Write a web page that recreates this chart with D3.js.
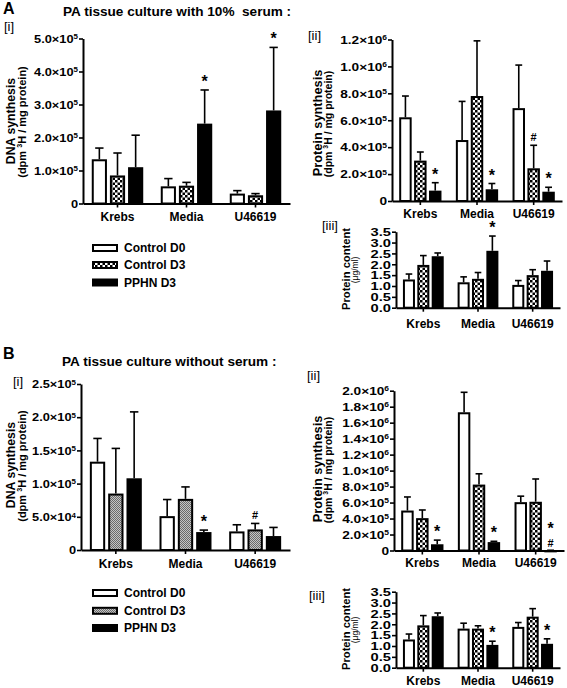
<!DOCTYPE html>
<html><head><meta charset="utf-8">
<script src="https://cdn.jsdelivr.net/npm/d3@7"></script>
<style>
body{margin:0;background:#fff}
svg{display:block}
text{font-family:"Liberation Sans",Arial,sans-serif;font-weight:bold;fill:#000}
</style>
</head><body>
<svg id="c" width="567" height="688"></svg>
<script>
// ---------- DATA ----------
const categories = ["Krebs", "Media", "U46619"];
const seriesNames = ["Control D0", "Control D3", "PPHN D3"];

// A: PA tissue culture with 10% serum
// [series][category]: mean and mean+SEM (top of error bar)
const aDnaMean = [[1.34e5, 0.52e5, 0.30e5], [0.85e5, 0.54e5, 0.25e5], [1.10e5, 2.42e5, 2.82e5]];
const aDnaTop  = [[1.68e5, 0.755e5, 0.39e5], [1.53e5, 0.64e5, 0.30e5], [2.07e5, 3.44e5, 4.73e5]];
const aDnaMarks = [["", "", ""], ["", "", ""], ["", "*", "*"]];
const aDnaTicks = [0, 1e5, 2e5, 3e5, 4e5, 5e5];

const aProtSynMean = [[6.22e5, 4.53e5, 6.9e5], [3.0e5, 7.8e5, 2.43e5], [0.77e5, 0.87e5, 0.69e5]];
const aProtSynTop  = [[7.8e5, 7.4e5, 10.1e5], [3.64e5, 11.9e5, 4.14e5], [1.36e5, 1.3e5, 1.02e5]];
const aProtSynMarks = [["", "", ""], ["", "", "#"], ["*", "*", "*"]];
const aProtSynTicks = [0, 2e5, 4e5, 6e5, 8e5, 1.0e6, 1.2e6];

const aProtContMean = [[1.30, 1.17, 1.05], [1.97, 1.33, 1.50], [2.37, 2.62, 1.70]];
const aProtContTop  = [[1.55, 1.42, 1.25], [2.40, 1.62, 1.75], [2.52, 3.30, 2.15]];
const aProtContMarks = [["", "", ""], ["", "", ""], ["", "*", ""]];
const protContTicks = [0, 0.5, 1.0, 1.5, 2.0, 2.5, 3.0, 3.5];

// B: PA tissue culture without serum
const bDnaMean = [[1.33e5, 0.51e5, 0.28e5], [0.85e5, 0.77e5, 0.31e5], [1.08e5, 0.27e5, 0.21e5]];
const bDnaTop  = [[1.68e5, 0.76e5, 0.38e5], [1.53e5, 0.95e5, 0.40e5], [2.08e5, 0.30e5, 0.34e5]];
const bDnaMarks = [["", "", ""], ["", "", "#"], ["", "*", ""]];
const bDnaTicks = [0, 5e4, 1.0e5, 1.5e5, 2.0e5, 2.5e5];

const bProtSynMean = [[5.0e5, 17.3e5, 6.05e5], [4.05e5, 8.25e5, 6.1e5], [0.78e5, 1.05e5, 0.02e5]];
const bProtSynTop  = [[6.7e5, 19.8e5, 6.8e5], [5.07e5, 9.6e5, 8.95e5], [1.3e5, 1.15e5, 0.03e5]];
const bProtSynMarks = [["", "", ""], ["", "", ""], ["*", "*", "*#"]];
const bProtSynTicks = [0, 2e5, 4e5, 6e5, 8e5, 1.0e6, 1.2e6, 1.4e6, 1.6e6, 1.8e6, 2.0e6];

const bProtContMean = [[1.30, 1.80, 1.88], [1.95, 1.80, 2.35], [2.37, 1.05, 1.10]];
const bProtContTop  = [[1.55, 2.05, 2.08], [2.40, 1.93, 2.72], [2.52, 1.22, 1.33]];
const bProtContMarks = [["", "", ""], ["", "", ""], ["", "*", "*"]];

// ---------- DRAWING ----------
const svg = d3.select("#c");
const defs = svg.append("defs");
const chk = defs.append("pattern").attr("id", "chk").attr("width", 5).attr("height", 5)
  .attr("patternUnits", "userSpaceOnUse");
chk.append("rect").attr("width", 5).attr("height", 5).attr("fill", "#fff");
chk.append("rect").attr("width", 2.5).attr("height", 2.5).attr("fill", "#000");
chk.append("rect").attr("x", 2.5).attr("y", 2.5).attr("width", 2.5).attr("height", 2.5).attr("fill", "#000");
const gry = defs.append("pattern").attr("id", "gry").attr("width", 2).attr("height", 2)
  .attr("patternUnits", "userSpaceOnUse");
gry.append("rect").attr("width", 2).attr("height", 2).attr("fill", "#c4c4c4");
gry.append("rect").attr("width", 1).attr("height", 1).attr("fill", "#6a6a6a");
gry.append("rect").attr("x", 1).attr("y", 1).attr("width", 1).attr("height", 1).attr("fill", "#6a6a6a");

const fillsChk = ["#fff", "url(#chk)", "#000"];
const fillsGry = ["#fff", "url(#gry)", "#000"];

function sciLabel(sel, v) {
  if (v === 0) { sel.text("0"); return; }
  const e = Math.floor(Math.log10(v) + 1e-9);
  const m = (v / Math.pow(10, e)).toFixed(1);
  sel.append("tspan").text(m + "×10");
  sel.append("tspan").attr("font-size", "0.62em").attr("dy", "-0.55em").text(e);
}

function panel(c) {
  const g = svg.append("g");
  const x = d3.scaleBand().domain(categories).range([c.x0, c.x1]);
  const y = d3.scaleLinear().domain([0, c.max]).range([c.yb, c.yt]);
  const bw = x.bandwidth();
  const barW = 0.22 * bw, step = 0.263 * bw, sw = 2;
  const capW = barW * 0.55;

  c.mean.forEach((ser, si) => {
    ser.forEach((v, ci) => {
      const cx = x(categories[ci]) + bw / 2 + (si - 1) * step;
      const top = c.top[si][ci];
      // error bar
      g.append("line").attr("x1", cx).attr("x2", cx).attr("y1", y(v)).attr("y2", y(top))
        .attr("stroke", "#000").attr("stroke-width", 1.6);
      g.append("line").attr("x1", cx - capW / 2).attr("x2", cx + capW / 2).attr("y1", y(top)).attr("y2", y(top))
        .attr("stroke", "#000").attr("stroke-width", 1.6);
      // bar
      const h = Math.max(0, y(0) - y(v));
      g.append("rect").attr("x", cx - barW / 2 + sw / 2).attr("width", barW - sw)
        .attr("y", y(v) + sw / 2).attr("height", Math.max(0.01, h - sw / 2))
        .attr("fill", c.fills[si]).attr("stroke", "#000").attr("stroke-width", sw);
      // marks
      const mk = c.marks[si][ci];
      const both = mk.includes("#") && mk.includes("*");
      if (mk.includes("#")) {
        g.append("text").attr("x", cx).attr("y", y(top) - (both ? 3 : 4)).attr("text-anchor", "middle")
          .attr("font-size", 11).text("#");
      }
      if (mk.includes("*")) {
        g.append("text").attr("x", cx).attr("y", y(top) - (both ? 16.5 : 3)).attr("text-anchor", "middle")
          .attr("font-size", 16).text("*");
      }
    });
  });

  // y axis
  const ya = g.append("g").attr("transform", `translate(${c.x0},0)`)
    .call(d3.axisLeft(y).tickValues(c.ticks).tickSize(4).tickSizeOuter(0).tickFormat(() => ""));
  ya.select(".domain").attr("stroke-width", 2);
  ya.selectAll(".tick line").attr("stroke-width", 1.6);
  ya.selectAll(".tick").each(function (v) {
    const t = d3.select(this).append("text")
      .attr("x", -5 / c.sx).attr("dy", "0.36em").attr("text-anchor", "end")
      .attr("font-size", c.tickFs).attr("transform", `scale(${c.sx},1)`);
    if (c.fmt === "sci") sciLabel(t, v); else t.text(d3.format(".1f")(v));
  });

  // x axis
  const xa = g.append("g").attr("transform", `translate(0,${c.yb})`)
    .call(d3.axisBottom(x).tickSize(4).tickSizeOuter(0).tickPadding(c.labPad));
  xa.select(".domain").attr("stroke-width", 2);
  xa.selectAll(".tick line").attr("stroke-width", 1.6);
  xa.selectAll(".tick text").attr("font-size", 12).attr("fill", "#000")
    .style("font-family", '"Liberation Sans",Arial,sans-serif').style("font-weight", "bold");

  // y titles
  g.append("text").attr("transform", `translate(${c.t1x},${c.tcy}) rotate(-90)`)
    .attr("text-anchor", "middle").attr("font-size", c.t1fs).text(c.title1);
  const t2 = g.append("text").attr("transform", `translate(${c.t2x},${c.tcy + 1}) rotate(-90)`)
    .attr("text-anchor", "middle").attr("font-size", c.t2fs);
  if (c.title2 === "dpm") {
    t2.append("tspan").text("(dpm ");
    t2.append("tspan").attr("font-size", "0.65em").attr("dy", "-0.5em").text("3");
    t2.append("tspan").attr("dy", "0.33em").text("H / mg protein)");
  } else {
    t2.attr("font-weight", "normal").style("font-weight", "normal").text(c.title2);
  }
  // panel tag
  svg.append("text").attr("x", c.tagX).attr("y", c.tagY).attr("font-size", 13)
    .style("font-weight", "normal").text(c.tag);
}

function legend(x0, ys, fills) {
  seriesNames.forEach((n, i) => {
    svg.append("rect").attr("x", x0 + 1).attr("y", ys[i] - 3).attr("width", 24).attr("height", 6)
      .attr("fill", fills[i]).attr("stroke", "#000").attr("stroke-width", 2);
    svg.append("text").attr("x", x0 + 32).attr("y", ys[i]).attr("dy", "0.36em")
      .attr("font-size", 12).text(n);
  });
}

// Headers
svg.append("text").attr("x", 3).attr("y", 13.5).attr("font-size", 16).text("A");
svg.append("text").attr("x", 63).attr("y", 15.5).attr("font-size", 13.6).attr("xml:space", "preserve")
  .text("PA tissue culture with 10%  serum :");
svg.append("text").attr("x", 3).attr("y", 359).attr("font-size", 16).text("B");
svg.append("text").attr("x", 62).attr("y", 365.5).attr("font-size", 13.6)
  .text("PA tissue culture without serum :");

// Panel A
panel({x0: 83, x1: 290, yb: 203.5, yt: 38.5, max: 5e5, mean: aDnaMean, top: aDnaTop, marks: aDnaMarks,
  ticks: aDnaTicks, fmt: "sci", fills: fillsChk, tickFs: 10.5, sx: 1.22, labPad: 5,
  title1: "DNA synthesis", title2: "dpm", t1x: 15, t2x: 26, tcy: 121, t1fs: 12.3, t2fs: 11,
  tag: "[i]", tagX: 4, tagY: 31});
panel({x0: 392, x1: 562, yb: 201, yt: 39.5, max: 1.2e6, mean: aProtSynMean, top: aProtSynTop, marks: aProtSynMarks,
  ticks: aProtSynTicks, fmt: "sci", fills: fillsChk, tickFs: 10.5, sx: 1.3, labPad: 4,
  title1: "Protein synthesis", title2: "dpm", t1x: 322, t2x: 331.5, tcy: 123, t1fs: 12.8, t2fs: 10.5,
  tag: "[ii]", tagX: 308, tagY: 40});
panel({x0: 396, x1: 560, yb: 307.7, yt: 231.7, max: 3.5, mean: aProtContMean, top: aProtContTop, marks: aProtContMarks,
  ticks: protContTicks, fmt: "fix", fills: fillsChk, tickFs: 10.5, sx: 1.4, labPad: 8,
  title1: "Protein content", title2: "(μg/ml)", t1x: 350, t2x: 357.5, tcy: 269, t1fs: 11.2, t2fs: 8.5,
  tag: "[iii]", tagX: 322, tagY: 230});
legend(92, [248, 265, 282.5], fillsChk);

// Panel B
panel({x0: 81, x1: 290, yb: 550, yt: 384, max: 2.5e5, mean: bDnaMean, top: bDnaTop, marks: bDnaMarks,
  ticks: bDnaTicks, fmt: "sci", fills: fillsGry, tickFs: 10.5, sx: 1.22, labPad: 5,
  title1: "DNA synthesis", title2: "dpm", t1x: 15, t2x: 26, tcy: 465, t1fs: 12.3, t2fs: 11,
  tag: "[i]", tagX: 13, tagY: 386});
panel({x0: 394, x1: 564, yb: 550.5, yt: 390.7, max: 2.0e6, mean: bProtSynMean, top: bProtSynTop, marks: bProtSynMarks,
  ticks: bProtSynTicks, fmt: "sci", fills: fillsChk, tickFs: 10.5, sx: 1.3, labPad: 4,
  title1: "Protein synthesis", title2: "dpm", t1x: 322, t2x: 331.5, tcy: 469, t1fs: 12.8, t2fs: 10.5,
  tag: "[ii]", tagX: 307, tagY: 380});
panel({x0: 396, x1: 560, yb: 667.7, yt: 591.7, max: 3.5, mean: bProtContMean, top: bProtContTop, marks: bProtContMarks,
  ticks: protContTicks, fmt: "fix", fills: fillsChk, tickFs: 10.5, sx: 1.4, labPad: 4.5,
  title1: "Protein content", title2: "(μg/ml)", t1x: 350, t2x: 357.5, tcy: 629, t1fs: 11.2, t2fs: 8.5,
  tag: "[iii]", tagX: 309, tagY: 600});
legend(92, [593, 610.8, 628], fillsGry);
</script>
</body></html>
